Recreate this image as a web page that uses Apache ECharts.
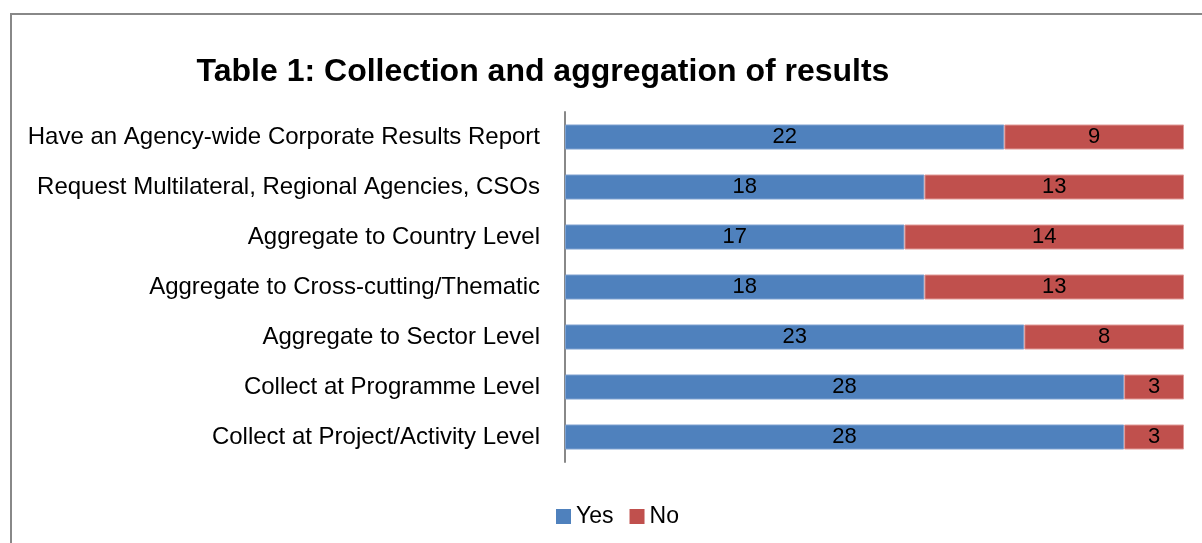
<!DOCTYPE html>
<html>
<head>
<meta charset="utf-8">
<script src="https://cdn.jsdelivr.net/npm/echarts@6/dist/echarts.min.js"></script>
<style>
  html, body { margin: 0; padding: 0; background: #fff; overflow: hidden; }
  #frame { position: absolute; left: 10px; top: 13px; width: 1300px; height: 700px; border: 2px solid #888; box-sizing: border-box; }
  #chart { position: absolute; left: 0; top: 0; width: 1202px; height: 543px; }
</style>
</head>
<body>
<div id="frame"></div>
<div id="chart"></div>
<script>
// categories from top to bottom
var categories = [
  'Have an Agency-wide Corporate Results Report',
  'Request Multilateral, Regional Agencies, CSOs',
  'Aggregate to Country Level',
  'Aggregate to Cross-cutting/Thematic',
  'Aggregate to Sector Level',
  'Collect at Programme Level',
  'Collect at Project/Activity Level'
]
var yesVals = [22, 18, 17, 18, 23, 28, 28]
var noVals = [9, 13, 14, 13, 8, 3, 3]

var font = 'Liberation Sans'
var chart = echarts.init(document.getElementById('chart'))
var option = {
  animation: false,
  title: {
    text: 'Table 1: Collection and aggregation of results',
    left: 538,
    top: 51,
    textAlign: 'center',
    textStyle: { fontFamily: font, fontSize: 32, fontWeight: 'bold', color: '#000' }
  },
  legend: {
    data: ['Yes', 'No'],
    top: 500,
    left: 551,
    itemWidth: 15,
    itemHeight: 15,
    itemGap: 16,
    icon: 'rect',
    itemStyle: { borderWidth: 0 },
    textStyle: { fontFamily: font, fontSize: 23, color: '#000' }
  },
  grid: { left: 565, right: 18, top: 112, bottom: 81 },
  xAxis: {
    type: 'value',
    min: 0,
    max: 31,
    show: false
  },
  yAxis: {
    type: 'category',
    data: categories,
    inverse: true,
    axisLine: { show: true, lineStyle: { color: '#888', width: 2 } },
    axisTick: { show: false },
    axisLabel: { fontFamily: font, fontSize: 24, color: '#000', margin: 25 }
  },
  series: [{
    name: 'Yes',
    type: 'bar',
    stack: 'total',
    barWidth: 25,
    data: yesVals,
    itemStyle: { color: '#4F81BD', borderColor: '#7EA1D0', borderWidth: 1 },
    label: { show: true, position: 'inside', fontFamily: font, fontSize: 22, color: '#000' }
  }, {
    name: 'No',
    type: 'bar',
    stack: 'total',
    barWidth: 25,
    data: noVals,
    itemStyle: { color: '#C0504D', borderColor: '#E09A98', borderWidth: 1 },
    label: { show: true, position: 'inside', fontFamily: font, fontSize: 22, color: '#000' }
  }]
}
chart.setOption(option)
</script>
</body>
</html>
